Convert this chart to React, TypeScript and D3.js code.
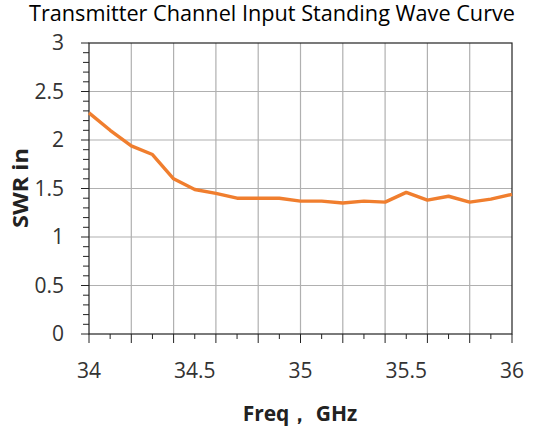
import React, { useEffect, useRef } from 'react';
import * as d3 from 'd3';

const freqs = [34.0, 34.1, 34.2, 34.3, 34.4, 34.5, 34.6, 34.7, 34.8, 34.9, 35.0,
  35.1, 35.2, 35.3, 35.4, 35.5, 35.6, 35.7, 35.8, 35.9, 36.0];
const swr = [2.28, 2.10, 1.94, 1.85, 1.60, 1.49, 1.45, 1.40, 1.40, 1.40, 1.37,
  1.37, 1.35, 1.37, 1.36, 1.46, 1.38, 1.42, 1.36, 1.39, 1.44];
const xTickLabels = [34, 34.5, 35, 35.5, 36];
const yTickLabels = [0, 0.5, 1, 1.5, 2, 2.5, 3];

const App = () => {
  const svgRef = useRef<SVGSVGElement>(null);

  useEffect(() => {
    const width = 551;
    const height = 434;
    const margin = { top: 43, right: 39, bottom: 100, left: 89 };
    const font = "'Open Sans', 'Noto Sans', sans-serif";

    const svg = d3.select(svgRef.current);
    svg.selectAll('*').remove();
    svg.attr('width', width).attr('height', height);

    const x = d3.scaleLinear().domain([34, 36]).range([margin.left, width - margin.right]);
    const y = d3.scaleLinear().domain([0, 3]).range([height - margin.bottom, margin.top]);

    const g = svg.append('g');

    // vertical grid every 0.2 GHz
    g.selectAll('line.vgrid')
      .data(d3.range(1, 10).map(i => 34 + i * 0.2))
      .enter()
      .append('line')
      .attr('x1', d => x(d)).attr('x2', d => x(d))
      .attr('y1', y(0)).attr('y2', y(3))
      .attr('stroke', '#b0b0b0').attr('stroke-width', 1.2);

    // horizontal grid every 0.5
    g.selectAll('line.hgrid')
      .data(yTickLabels.slice(1, -1))
      .enter()
      .append('line')
      .attr('x1', x(34)).attr('x2', x(36))
      .attr('y1', d => y(d)).attr('y2', d => y(d))
      .attr('stroke', '#b0b0b0').attr('stroke-width', 1.2);

    // frame
    g.append('rect')
      .attr('x', x(34)).attr('y', y(3))
      .attr('width', x(36) - x(34)).attr('height', y(0) - y(3))
      .attr('fill', 'none').attr('stroke', '#222').attr('stroke-width', 1.2);

    // y ticks (minor 0.1, major 0.5)
    g.selectAll('line.ytick')
      .data(d3.range(0, 31).map(i => i / 10))
      .enter()
      .append('line')
      .attr('x1', (d, i) => x(34) - (i % 5 === 0 ? 8 : 6)).attr('x2', x(34))
      .attr('y1', d => y(d)).attr('y2', d => y(d))
      .attr('stroke', '#222').attr('stroke-width', 1);

    // x ticks every 0.1
    g.selectAll('line.xtick')
      .data(d3.range(0, 21).map(i => 34 + i / 10))
      .enter()
      .append('line')
      .attr('x1', d => x(d)).attr('x2', d => x(d))
      .attr('y1', y(0)).attr('y2', (d, i) => y(0) + (i % 2 === 0 ? 9 : 5))
      .attr('stroke', '#222').attr('stroke-width', 1);

    // y labels
    g.selectAll('text.ylab')
      .data(yTickLabels)
      .enter()
      .append('text')
      .attr('x', x(34) - 25)
      .attr('y', d => y(d) + 7)
      .attr('text-anchor', 'end')
      .style('font-family', font).style('font-size', '21px').style('fill', '#333')
      .text(d => d);

    // x labels
    g.selectAll('text.xlab')
      .data(xTickLabels)
      .enter()
      .append('text')
      .attr('x', d => x(d))
      .attr('y', y(0) + 44)
      .attr('text-anchor', 'middle')
      .style('font-family', font).style('font-size', '21px').style('fill', '#333')
      .text(d => d);

    // line
    const line = d3.line<number>()
      .x((d, i) => x(freqs[i]))
      .y(d => y(d));
    g.append('path')
      .datum(swr)
      .attr('d', line)
      .attr('fill', 'none')
      .attr('stroke', '#F07E2E')
      .attr('stroke-width', 3.4)
      .attr('stroke-linejoin', 'round');

    // title
    svg.append('text')
      .attr('x', 272).attr('y', 21)
      .attr('text-anchor', 'middle')
      .attr('textLength', 486)
      .attr('lengthAdjust', 'spacingAndGlyphs')
      .style('font-family', font).style('font-size', '21px').style('fill', '#000')
      .text('Transmitter Channel Input Standing Wave Curve');

    // axis titles
    svg.append('text')
      .attr('x', 300).attr('y', 421)
      .attr('text-anchor', 'middle')
      .style('font-family', font).style('font-size', '21px').style('font-weight', 'bold').style('fill', '#222')
      .text('Freq， GHz');

    svg.append('text')
      .attr('transform', 'translate(28,188) rotate(-90)')
      .attr('text-anchor', 'middle')
      .attr('textLength', 80)
      .attr('lengthAdjust', 'spacingAndGlyphs')
      .style('font-family', font).style('font-size', '22px').style('font-weight', 'bold').style('fill', '#222')
      .text('SWR in');
  }, []);

  return <svg ref={svgRef} style={{ position: 'absolute', left: 0, top: 0, background: '#fff' }} />;
};

export default App;
